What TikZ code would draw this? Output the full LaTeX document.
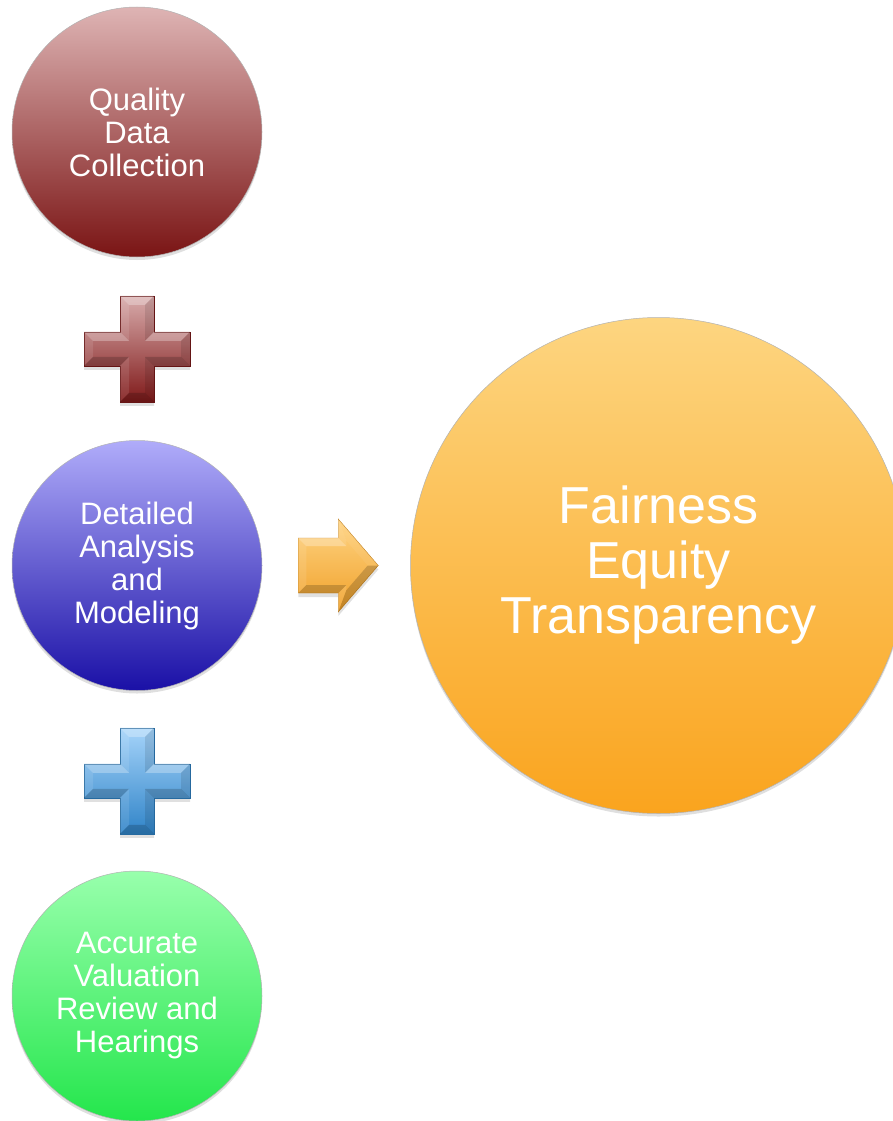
\documentclass[tikz,border=0pt]{standalone}
\usepackage{fontspec}
\setmainfont{Liberation Sans}
\usetikzlibrary{positioning, calc, shadows}
\definecolor{qualtop}{RGB}{222,180,180}
\definecolor{qualbot}{RGB}{122,20,20}
\definecolor{anatop}{RGB}{176,172,250}
\definecolor{anabot}{RGB}{26,16,166}
\definecolor{valtop}{RGB}{152,255,172}
\definecolor{valbot}{RGB}{36,230,76}
\definecolor{fairtop}{RGB}{253,213,128}
\definecolor{fairbot}{RGB}{250,164,30}
\definecolor{plusredtop}{RGB}{216,172,172}
\definecolor{plusredbot}{RGB}{128,26,26}
\definecolor{plusbluetop}{RGB}{166,212,250}
\definecolor{plusbluebot}{RGB}{48,132,200}
\definecolor{arrowtop}{RGB}{255,212,132}
\definecolor{arrowbot}{RGB}{240,160,40}
\tikzstyle{ball} = [circle, draw=black!30, line width=0.5pt, text=white, align=center, inner sep=0pt, minimum size=250pt, font=\fontsize{31}{33}\selectfont, drop shadow={opacity=0.25, shadow xshift=0pt, shadow yshift=-3pt}]
\tikzstyle{bigball} = [ball, minimum size=496pt, font=\fontsize{52}{55}\selectfont]
\tikzstyle{lit} = [white, opacity=0.28]
\tikzstyle{halflit} = [white, opacity=0.1]
\tikzstyle{halfdark} = [black, opacity=0.1]
\tikzstyle{dark} = [black, opacity=0.18]

% bevelled plus sign: centre, top colour, bottom colour
\newcommand{\bevelplus}[3]{%
  \begin{scope}[shift={(#1)}]
    \fill[black, opacity=0.12, yshift=-4pt] (-17,53) -- (17,53) -- (17,17) -- (53,17) -- (53,-17) -- (17,-17) -- (17,-53) -- (-17,-53) -- (-17,-17) -- (-53,-17) -- (-53,17) -- (-17,17) -- cycle;
    \shade[top color=#2, bottom color=#3, draw=#3!80!black, line width=0.4pt] (-17,53) -- (17,53) -- (17,17) -- (53,17) -- (53,-17) -- (17,-17) -- (17,-53) -- (-17,-53) -- (-17,-17) -- (-53,-17) -- (-53,17) -- (-17,17) -- cycle;
    \fill[lit] (-17,53) -- (17,53) -- (8,44) -- (-8,44) -- cycle
      (17,17) -- (53,17) -- (44,8) -- (8,8) -- cycle
      (-53,17) -- (-17,17) -- (-8,8) -- (-44,8) -- cycle;
    \fill[dark] (-17,-53) -- (17,-53) -- (8,-44) -- (-8,-44) -- cycle
      (17,-17) -- (53,-17) -- (44,-8) -- (8,-8) -- cycle
      (-53,-17) -- (-17,-17) -- (-8,-8) -- (-44,-8) -- cycle;
    \fill[halfdark] (53,17) -- (53,-17) -- (44,-8) -- (44,8) -- cycle
      (17,53) -- (17,17) -- (8,8) -- (8,44) -- cycle
      (17,-17) -- (17,-53) -- (8,-44) -- (8,-8) -- cycle;
    \fill[halflit] (-53,17) -- (-53,-17) -- (-44,-8) -- (-44,8) -- cycle
      (-17,53) -- (-17,17) -- (-8,8) -- (-8,44) -- cycle
      (-17,-17) -- (-17,-53) -- (-8,-44) -- (-8,-8) -- cycle;
  \end{scope}}

\begin{document}
\begin{tikzpicture}[x=1pt, y=1pt]
    \useasboundingbox (0,0) rectangle (892,-1121);

    % Place the circles
    \node [ball, top color=qualtop, bottom color=qualbot] (quality) at (137,-132) {Quality\\Data\\Collection};
    \node [ball, top color=anatop, bottom color=anabot, below=183pt of quality] (analysis) {Detailed\\Analysis\\and\\Modeling};
    \node [ball, top color=valtop, bottom color=valbot, below=180pt of analysis] (valuation) {Accurate\\Valuation\\Review and\\Hearings};
    \node [bigball, top color=fairtop, bottom color=fairbot, right=148pt of analysis] (fairness) {Fairness\\Equity\\Transparency};

    % Plus signs between the circles
    \coordinate (plusone) at ($(quality)!0.5!(analysis)$);
    \coordinate (plustwo) at ($(analysis)!0.5!(valuation)$);
    \bevelplus{plusone}{plusredtop}{plusredbot}
    \bevelplus{plustwo}{plusbluetop}{plusbluebot}

    % Arrow to the result
    \coordinate (arrowmid) at ($(analysis.east)!0.5!(fairness.west)$);
    \begin{scope}[shift={(arrowmid)}]
      \fill[black, opacity=0.12, yshift=-4pt] (-38,27.5) -- (2,27.5) -- (2,46.5) -- (42,0) -- (2,-46.5) -- (2,-27.5) -- (-38,-27.5) -- cycle;
      \shade[top color=arrowtop, bottom color=arrowbot, draw=arrowbot!80!black, line width=0.4pt] (-38,27.5) -- (2,27.5) -- (2,46.5) -- (42,0) -- (2,-46.5) -- (2,-27.5) -- (-38,-27.5) -- cycle;
      \fill[lit] (-38,27.5) -- (2,27.5) -- (10,19.5) -- (-30,19.5) -- cycle;
      \fill[halflit] (2,27.5) -- (2,46.5) -- (10,24.9) -- (10,19.5) -- cycle
        (2,-27.5) -- (2,-46.5) -- (10,-24.9) -- (10,-19.5) -- cycle
        (-38,27.5) -- (-38,-27.5) -- (-30,-19.5) -- (-30,19.5) -- cycle;
      \fill[white, opacity=0.06] (2,46.5) -- (42,0) -- (31.5,0) -- (10,24.9) -- cycle;
      \fill[dark] (42,0) -- (2,-46.5) -- (10,-24.9) -- (31.5,0) -- cycle
        (-38,-27.5) -- (2,-27.5) -- (10,-19.5) -- (-30,-19.5) -- cycle;
    \end{scope}
\end{tikzpicture}
\end{document}
